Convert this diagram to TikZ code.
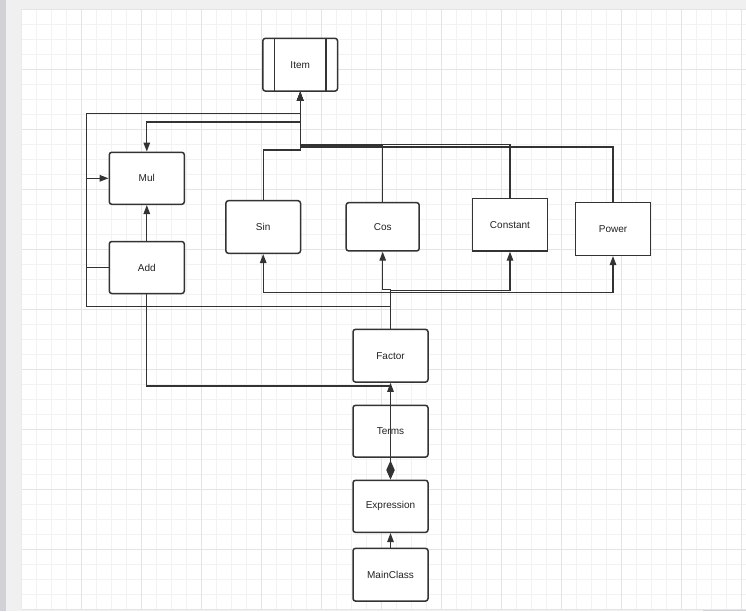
\documentclass[tikz,border=0pt]{standalone}
\usepackage{fontspec}
\setmainfont{Liberation Sans}
\usetikzlibrary{arrows.meta,positioning,calc}
\definecolor{umlLine}{HTML}{333333}
\definecolor{umlText}{HTML}{222222}
\definecolor{umlFrame}{HTML}{F0F0F0}
\definecolor{umlEdge}{HTML}{D2D2D6}
\definecolor{umlMinor}{HTML}{F2F2F2}
\definecolor{umlMajor}{HTML}{E4E4E4}
\tikzset{
  >={Triangle[length=9pt,width=6.5pt]},
  cls/.style={draw=umlLine, line width=1.5pt, fill=white, rounded corners=2.5pt,
              minimum width=75pt, minimum height=52pt, inner sep=0pt,
              font=\fontsize{10}{12}\selectfont, text=umlText},
  clsflat/.style={cls, rounded corners=0pt},
  link/.style={draw=umlLine, line width=1.35pt},
  inh/.style={link, ->},
  comp/.style={link, {Diamond[length=19pt,width=8.5pt]}->},
}

\begin{document}
\begin{tikzpicture}[x=1pt,y=-1pt]
  \useasboundingbox (0,0) rectangle (746,611);
  % canvas and grid
  \fill[umlFrame] (0,0) rectangle (746,611);
  \fill[umlEdge] (0,0) rectangle (6,611);
  \fill[white] (21.5,9.4) rectangle (746,609);
  \fill[umlEdge] (702.7,609) rectangle (746,611);
  \begin{scope}
    \clip (21.5,9.4) rectangle (746,609);
    \foreach \i in {0,...,48}{
      \draw[umlMinor,line width=0.9pt] ({21.9+15*\i},9.4) -- ({21.9+15*\i},609);}
    \foreach \j in {0,...,40}{
      \draw[umlMinor,line width=0.9pt] (21.5,{9.4+15*\j}) -- (746,{9.4+15*\j});}
    \foreach \i in {0,...,12}{
      \draw[umlMajor,line width=0.9pt] ({21.9+60*\i},9.4) -- ({21.9+60*\i},609);}
    \foreach \j in {0,...,10}{
      \draw[umlMajor,line width=0.9pt] (21.5,{9.4+60*\j}) -- (746,{9.4+60*\j});}
  \end{scope}

  % classes
  \node[cls,minimum width=74.7pt,minimum height=52.7pt] (item) at (300.2,64.7) {Item};
  \draw[umlLine,line width=1.5pt] ([xshift=12.5pt]item.north west) -- ([xshift=12.5pt]item.south west);
  \draw[umlLine,line width=1.5pt] ([xshift=-12.5pt]item.north east) -- ([xshift=-12.5pt]item.south east);
  \node[cls] (mul) at (146.8,178.3) {Mul};
  \node[cls] (add) at (146.8,267.5) {Add};
  \node[cls,minimum width=74.6pt,minimum height=52.6pt] (sin) at (263.2,227) {Sin};
  \node[cls,minimum width=73pt,minimum height=48.3pt] (cos) at (382.7,226.8) {Cos};
  \node[clsflat,minimum height=52.3pt] (constant) at (510,224.8) {Constant};
  \node[clsflat,minimum height=52.6pt] (power) at (613,229) {Power};
  \node[cls,minimum height=52.7pt] (factor) at (390.5,355.7) {Factor};
  \node[cls,minimum height=51.7pt] (terms) at (390.5,431.2) {Terms};
  \node[cls] (expression) at (390.5,506.3) {Expression};
  \node[cls,minimum height=52.7pt] (mainclass) at (390.5,574.7) {MainClass};

  % bus levels
  \coordinate (leftTop) at (86.3,113.3);
  \coordinate (leftBot) at (86.3,306.7);
  \coordinate (mulBus) at (0,122);
  \coordinate (constBus) at (0,144.3);
  \coordinate (cosBus) at (0,146);
  \coordinate (powBus) at (0,147);
  \coordinate (sinBus) at (0,150);
  \coordinate (cosLow) at (0,289.7);
  \coordinate (constLow) at (0,290.3);
  \coordinate (sinLow) at (0,292.2);
  \coordinate (addBus) at (0,386);

  % generalisations towards Item
  \draw[inh] (factor.north) |- (leftBot) -- (leftTop) -| (item.south);
  \draw[inh] (item.south) -- (item.south |- mulBus) -| (mul.north);
  \draw[inh] (sin.north) |- (item.south |- sinBus) -- (item.south);
  \draw[inh] (cos.north) |- (item.south |- cosBus) -- (item.south);
  \draw[inh] (constant.north) |- (item.south |- constBus) -- (item.south);
  \draw[inh] (power.north) |- (item.south |- powBus) -- (item.south);
  % Add into Mul
  \draw[inh] (add.west) -- (add.west -| leftBot) |- (mul.west);
  \draw[inh] (add.north) -- (mul.south);
  % Factor fan-out
  \draw[inh] (factor.north) |- (sin.south |- sinLow) -- (sin.south);
  \draw[inh] (factor.north) |- (power.south |- sinLow) -- (power.south);
  \draw[inh] (factor.north) |- (constant.south |- constLow) -- (constant.south);
  \draw[inh] (factor.north) |- (cos.south |- cosLow) -- (cos.south);
  \draw[link] (add.south) |- (factor.south |- addBus);
  % bottom chain
  \draw[comp] (expression.north) -- (factor.south);
  \draw[inh] (mainclass.north) -- (expression.south);
\end{tikzpicture}
\end{document}
